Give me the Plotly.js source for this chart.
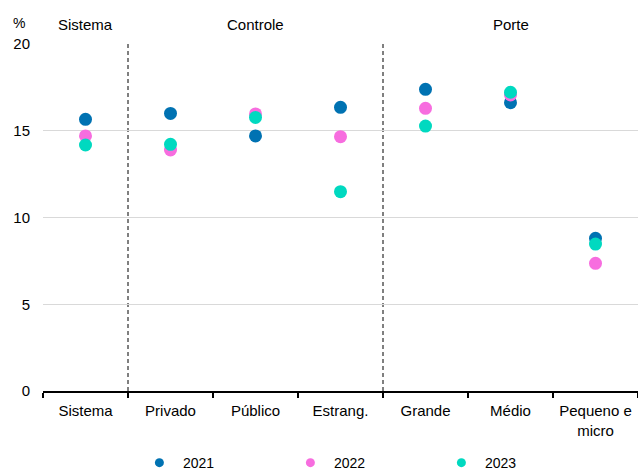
<!DOCTYPE html>
<html><head><meta charset="utf-8">
<script src="https://cdn.plot.ly/plotly-3.0.1.min.js"></script>
<style>html,body{margin:0;padding:0;background:#fff;}#chart{width:638px;height:472px;}</style>
</head><body><div id="chart"></div>
<script>
const categories = ["Sistema", "Privado", "Público", "Estrang.", "Grande", "Médio", "Pequeno e<br>micro"];
const years = ["2021", "2022", "2023"];
const v2021 = [15.66, 16.0, 14.7, 16.35, 17.39, 16.62, 8.8];
const v2022 = [14.7, 13.89, 15.97, 14.66, 16.29, 17.06, 7.36];
const v2023 = [14.18, 14.22, 15.77, 11.49, 15.27, 17.22, 8.47];
const colors = ["#0072b2", "#f76ddf", "#00d9c0"];
const groupLabels = ["Sistema", "Controle", "Porte"];
const groupCenters = [0, 2, 5];
const separators = [0.5, 3.5];
const yTicks = [0, 5, 10, 15, 20];

const series = [v2021, v2022, v2023];
const traces = series.map((vals, i) => ({
  type: "scatter", mode: "markers", name: years[i], showlegend: false,
  x: categories, y: vals,
  marker: {color: colors[i], size: 13},
  cliponaxis: false
}));
// legend-only entries with smaller markers
years.forEach((yr, i) => traces.push({
  type: "scatter", mode: "markers", name: yr, x: [null], y: [null],
  marker: {color: colors[i], size: 9}, showlegend: true
}));

const shapes = separators.map(s => ({
  type: "line", xref: "x", yref: "paper", x0: s, x1: s, y0: 0, y1: 1,
  line: {color: "#000", width: 1, dash: "4px,3px"}, layer: "below"
}));

const annotations = groupLabels.map((g, i) => ({
  text: g, xref: "x", yref: "paper", x: groupCenters[i], y: 1.055,
  showarrow: false, xanchor: "center", yanchor: "middle",
  font: {size: 15, color: "#000"}
}));
annotations.push({text: "%", xref: "paper", yref: "paper", x: -0.04, y: 1.06,
  showarrow: false, xanchor: "center", yanchor: "middle", font: {size: 14, color: "#000"}});

const layout = {
  width: 638, height: 472,
  margin: {l: 43, r: 0, t: 44, b: 81},
  paper_bgcolor: "#fff", plot_bgcolor: "#fff",
  font: {family: "Liberation Sans, Arial, sans-serif", size: 15, color: "#000"},
  showlegend: true,
  legend: {orientation: "h", xref: "container", yref: "container",
    x: 0.213, xanchor: "left", y: 0.019, yanchor: "middle",
    entrywidth: 99, font: {size: 14}, itemwidth: 37},
  xaxis: {type: "category", range: [-0.5, 6.5], tickson: "boundaries",
    ticks: "outside", ticklen: 5, tickcolor: "#000", tickwidth: 2,
    showline: true, linecolor: "#000", linewidth: 2, showgrid: false, zeroline: false,
    ticklabelstandoff: 5, fixedrange: true},
  yaxis: {range: [0, 20], tickvals: yTicks, showgrid: true, gridcolor: "#d9d9d9",
    gridwidth: 1, zeroline: false, showline: false, ticks: "", ticklabelstandoff: 12,
    tickfont: {size: 15}, fixedrange: true},
  shapes: shapes,
  annotations: annotations
};

Plotly.newPlot("chart", traces, layout, {displayModeBar: false, staticPlot: true});
</script>
</body></html>
